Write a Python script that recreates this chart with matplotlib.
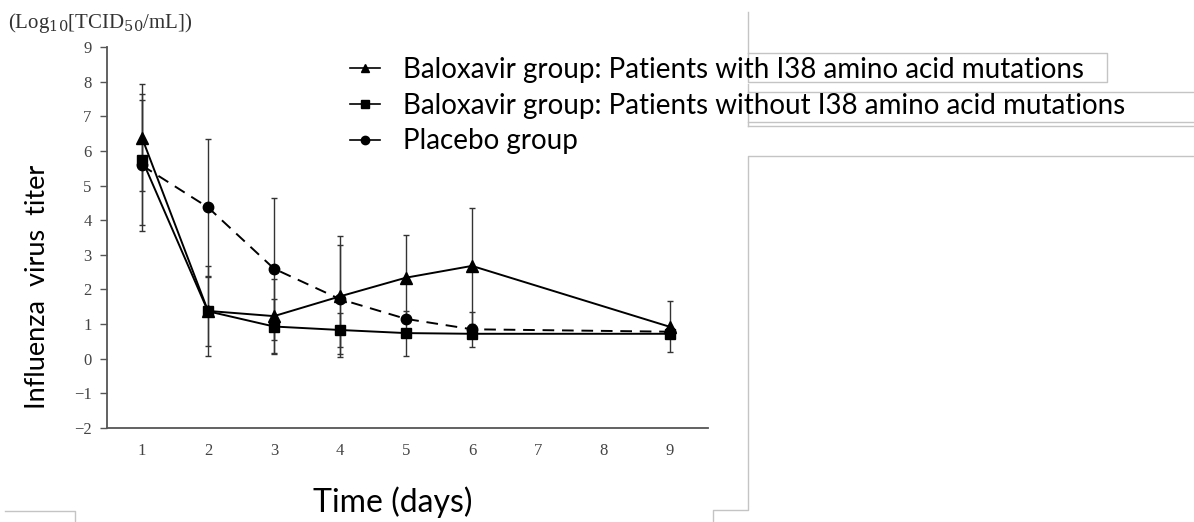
import matplotlib
matplotlib.use("Agg")
import matplotlib.pyplot as plt
from matplotlib.lines import Line2D

# ---- data ----
days = [1, 2, 3, 4, 5, 6, 9]
with_i38 = [6.38, 1.38, 1.23, 1.80, 2.34, 2.68, 0.92]
with_i38_err = [1.55, 1.29, 1.06, 1.75, 1.22, 1.68, 0.74]
without_i38 = [5.75, 1.37, 0.93, 0.83, 0.74, 0.72, 0.72]
without_i38_err = [1.90, 1.00, 0.80, 0.50, 0.65, 0.00, 0.00]
placebo = [5.58, 4.37, 2.60, 1.72, 1.15, 0.85, 0.78]
placebo_err = [1.90, 1.98, 2.05, 1.57, 0.00, 0.50, 0.00]

labels = ["Baloxavir group: Patients with I38 amino acid mutations",
          "Baloxavir group: Patients without I38 amino acid mutations",
          "Placebo group"]
x_ticks = [1, 2, 3, 4, 5, 6, 7, 8, 9]
y_ticks = [-2, -1, 0, 1, 2, 3, 4, 5, 6, 7, 8, 9]

W, H = 1194, 522
fig = plt.figure(figsize=(W / 100, H / 100), dpi=100)

def fx(x):
    return x / W

def fy(y):
    return 1 - y / H

left, right, bottom, top = 107, 708, 428, 47
ax = fig.add_axes([fx(left), fy(bottom), fx(right - left), fy(top) - fy(bottom)])

ebkw = dict(ecolor="#333333", elinewidth=1.0, capsize=2, capthick=1.0)
ax.errorbar(days, placebo, yerr=placebo_err, fmt="none", **ebkw)
ax.errorbar(days, without_i38, yerr=without_i38_err, fmt="none", **ebkw)
ax.errorbar(days, with_i38, yerr=with_i38_err, fmt="none", **ebkw)

ax.plot(days, placebo, color="black", lw=1.4, ls=(0, (6, 4)), marker="o",
        markersize=7.5, zorder=3)
ax.plot(days, without_i38, color="black", lw=1.4, marker="s",
        markersize=7.5, zorder=3)
ax.plot(days, with_i38, color="black", lw=1.4, marker="^",
        markersize=8, zorder=3)

ax.set_xlim(1 - 35 / 66, 1 - 35 / 66 + (right - left) / 66)
ax.set_ylim(-2, 9)
ax.set_xticks(x_ticks)
ax.set_yticks(y_ticks)
ax.spines["top"].set_visible(False)
ax.spines["right"].set_visible(False)
for s in ("left", "bottom"):
    ax.spines[s].set_color("#555555")
    ax.spines[s].set_linewidth(1.3)
ax.tick_params(axis="y", direction="out", length=5, width=1, color="#555555",
               labelsize=12, labelcolor="#444444", pad=6)
ax.tick_params(axis="x", length=0, labelsize=12, labelcolor="#444444", pad=11)
for lab in ax.get_xticklabels() + ax.get_yticklabels():
    lab.set_fontfamily("Liberation Serif")

# axis labels
fig.text(fx(38), fy(287), "Influenza  virus  titer", rotation=90, ha="center",
         va="center", fontsize=19.5, family="Lato", color="black")
fig.text(fx(393), fy(512), "Time (days)", ha="center", va="baseline",
         fontsize=23, family="Lato", color="black")
fig.text(fx(8), fy(23), r"(Log$_{\mathrm{10}}$[TCID$_{\mathrm{50}}$/mL])",
         ha="left", va="center", fontsize=15, family="Liberation Serif",
         color="#333333", math_fontfamily="dejavuserif")

# legend
handles = [Line2D([], [], color="black", lw=1.2, marker="^", markersize=6),
           Line2D([], [], color="black", lw=1.2, marker="s", markersize=6),
           Line2D([], [], color="black", lw=1.2, marker="o", markersize=6)]
leg = fig.legend(handles, labels, loc="upper left",
                 bbox_to_anchor=(fx(350), fy(57)), frameon=False,
                 prop={"family": "Lato", "size": 20}, handlelength=1.08,
                 handletextpad=0.83, labelspacing=0.35, borderpad=0,
                 borderaxespad=0)

# decorative frame lines from the source slide
gray = "#c4c4c4"
segs = [
    ([748, 748], [12, 53]),
    ([748, 1107, 1107, 748, 748], [53, 53, 82, 82, 53]),
    ([748, 748], [84, 92]),
    ([748, 1194], [92, 92]),
    ([748, 1194], [122, 122]),
    ([748, 1194], [126, 126]),
    ([748, 748], [92, 126]),
    ([1194, 748, 748, 713, 713], [156, 156, 510, 510, 522]),
    ([5, 75, 75], [511, 511, 522]),
]
for xs, ys in segs:
    fig.add_artist(Line2D([fx(v) for v in xs], [fy(v) for v in ys],
                          color=gray, lw=1.0))

fig.savefig("out.png", dpi=100)
